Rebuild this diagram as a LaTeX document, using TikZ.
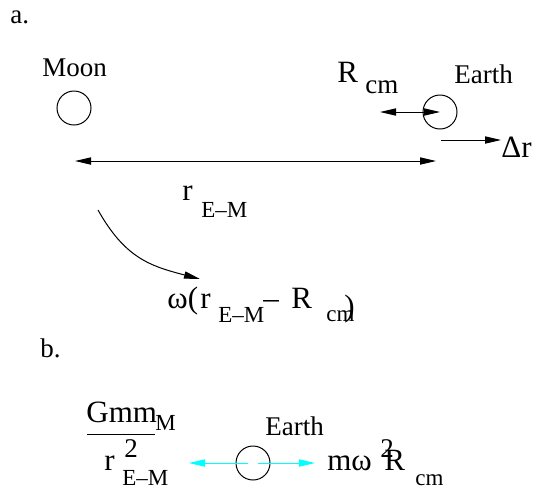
\documentclass[tikz,border=0pt]{standalone}
\usepackage{fontspec}
\setmainfont{Liberation Serif}
\usetikzlibrary{arrows.meta}
\definecolor{figcyan}{RGB}{0,255,255}

\begin{document}
\begin{tikzpicture}[x=0.5pt,y=-0.5pt,
  txt/.style={anchor=base west,inner sep=0pt,font=\fontsize{13.5}{15}\selectfont},
  sym/.style={txt,font=\fontsize{15.5}{17}\selectfont},
  sub/.style={txt,font=\fontsize{11.5}{13}\selectfont},
  body/.style={circle,draw,line width=0.5pt,minimum size=17pt,inner sep=0pt},
  vec/.style={line width=0.5pt,-{Triangle[length=8pt,width=3.6pt]}},
  twoway/.style={line width=0.5pt,{Triangle[length=8pt,width=3.6pt]}-{Triangle[length=8pt,width=3.6pt]}}]

\useasboundingbox (0,0) rectangle (535,489);

% Part a: Moon and Earth
\node[txt] (lbla) at (10,23) {a.};
\node[txt] (moontxt) at (42,76) {Moon};
\node[body] (moon) at (74,108) {};
\node[txt] (earthtxt) at (454,83) {Earth};
\node[body] (earth) at (440,112) {};

% Distance from the centre of mass
\node[sym] (rcm) at (337,82) {R};
\node[txt] (rcmsub) at (365,93) {cm};
\coordinate (cmpt) at (380,112);
\draw[twoway] (cmpt) -- (earth.center);

% Shift of the Earth
\coordinate (drstart) at (441,140);
\node[sym] (dr) at (501,157) {Δr};
\draw[vec] (drstart) -- (dr.west |- drstart);

% Earth-Moon distance
\coordinate (emleft) at (75,161);
\coordinate (emright) at (436,161);
\draw[twoway] (emleft) -- (emright);
\node[sym] (rem) at (182,200) {r};
\node[sub] (remsub) at (201,217) {E–M};

% Orbital speed
\coordinate (bendstart) at (98,210);
\coordinate (bendend) at (200,279);
\draw[vec] (bendstart) .. controls (125,258) and (150,266) .. (bendend);
\node[sym] (omega) at (167,308) {ω(};
\node[sym] (vr) at (200,308) {r};
\node[sub] (vrsub) at (218,322) {E–M};
\node[sym] (vminus) at (263,308) {–};
\node[sym] (vR) at (291,308) {R};
\node[sub] (vRsub) at (326,321) {cm};
\node[sym] (vclose) at (344,316) {)};

% Part b: forces on the Earth
\node[txt] (lblb) at (40,357) {b.};
\node[sym] (gmm) at (86,422) {Gmm};
\node[sub] (gmmsub) at (155,430) {M};
\draw[line width=0.5pt] (87,434) -- (155,434);
\node[sym] (den) at (104,470) {r};
\node[txt] (densq) at (124,457) {2};
\node[sub] (densub) at (122,485) {E–M};

\node[txt] (earthbtxt) at (265,435) {Earth};
\node[body] (earthb) at (253,463) {};
\coordinate (pullend) at (189,463);
\coordinate (pushend) at (315,463);
\draw[vec,figcyan] ([xshift=-2.5]earthb.center) -- (pullend);
\draw[vec,figcyan] ([xshift=2.5]earthb.center) -- (pushend);

\node[sym] (cm) at (327,470) {m};
\node[sym] (cw) at (351,470) {ω};
\node[txt] (cwsq) at (380,457) {2};
\node[sym] (cR) at (384,470) {R};
\node[sub] (cRsub) at (415,485) {cm};

\end{tikzpicture}
\end{document}
